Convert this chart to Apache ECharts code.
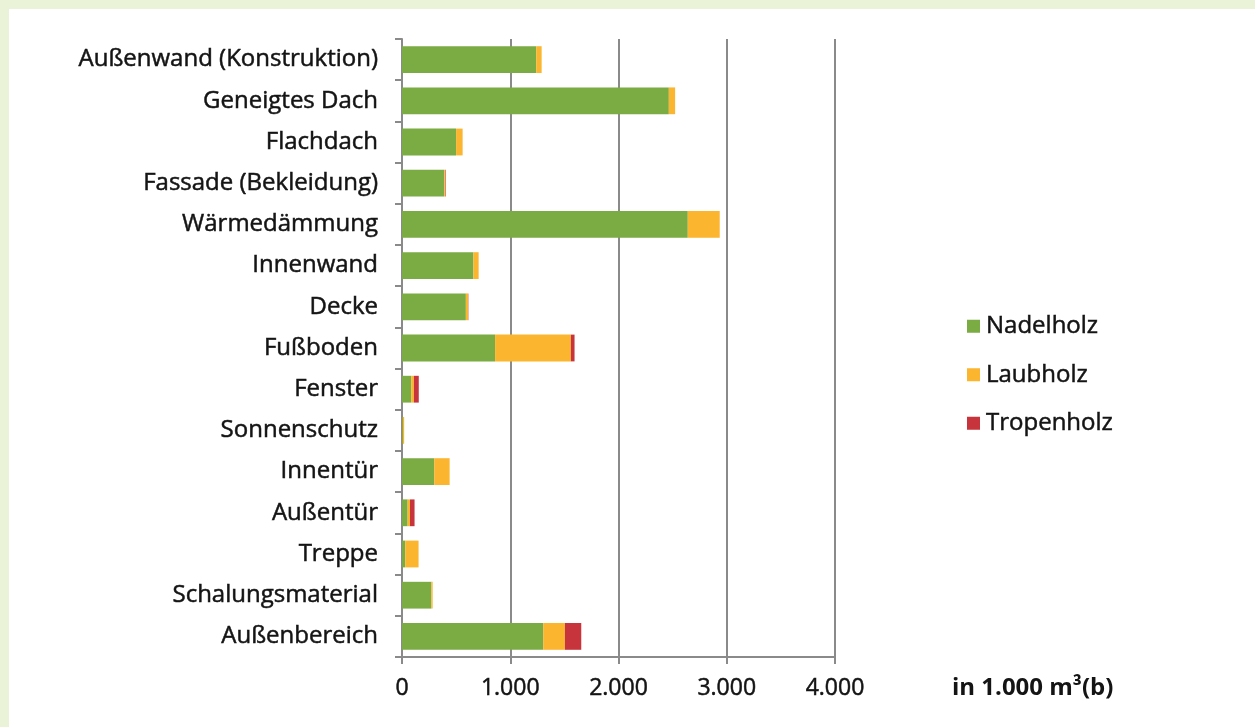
<!DOCTYPE html>
<html>
<head>
<meta charset="utf-8">
<script src="https://cdn.jsdelivr.net/npm/echarts@6/dist/echarts.min.js"></script>
<style>
html,body{margin:0;padding:0;background:#ffffff;}
#wrap{position:absolute;left:0;top:0;width:1255px;height:727px;background:#eaf2d8;}
#chart{position:absolute;left:9px;top:9px;width:1246px;height:718px;background:#ffffff;}
</style>
</head>
<body>
<div id="wrap"><div id="chart"></div></div>
<script>
const categories = ["Außenwand (Konstruktion)","Geneigtes Dach","Flachdach","Fassade (Bekleidung)","Wärmedämmung","Innenwand","Decke","Fußboden","Fenster","Sonnenschutz","Innentür","Außentür","Treppe","Schalungsmaterial","Außenbereich"];
const nadelholz = [1240,2465,500,390,2640,660,590,860,85,8,298,52,30,271,1305];
const laubholz  = [50,58,60,10,295,48,20,700,25,12,142,22,123,12,200];
const tropenholz= [0,0,0,5,0,0,3,34,45,0,0,42,0,0,151];
const xTicks = [0,1000,2000,3000,4000];
const seriesNames = ["Nadelholz","Laubholz","Tropenholz"];
const axisName = "in 1.000 m³(b)";

const colors = ["#7bab43","#fbb52f","#c7343b"];
const FONT = "'Open Sans', sans-serif";
const TXT = '#141414';
const chart = echarts.init(document.getElementById('chart'), null, {renderer:'canvas'});
const fmt = v => v === 0 ? '0' : (v/1000).toFixed(0) + '.000';
const mk = (name, data, i) => ({
  name, type:'bar', stack:'total', data, barWidth:'65%',
  itemStyle:{color:colors[i]}, emphasis:{disabled:true}
});
const thick = {textBorderColor:TXT, textBorderWidth:0.5};
chart.setOption({
  animation:false,
  textStyle:{fontFamily:FONT},
  grid:{left:393, top:30, width:433, height:618, containLabel:false},
  xAxis:{type:'value', min:0, max:4000, interval:1000,
    axisLine:{show:true, lineStyle:{color:'#8a8a8a', width:2}},
    axisTick:{show:true, length:7, lineStyle:{color:'#8a8a8a', width:2}},
    splitLine:{show:true, lineStyle:{color:'#8a8a8a', width:2}},
    axisLabel:Object.assign({color:TXT, fontSize:23, fontFamily:FONT, margin:20, formatter:fmt}, thick)
  },
  yAxis:{type:'category', data:categories, inverse:true,
    axisLine:{show:true, lineStyle:{color:'#8a8a8a', width:2}},
    axisTick:{show:true, length:7, lineStyle:{color:'#8a8a8a', width:2}},
    axisLabel:Object.assign({color:TXT, fontSize:24, fontFamily:FONT, margin:24}, thick)
  },
  legend:{orient:'vertical', left:953, top:300, itemWidth:13, itemHeight:13, itemGap:24,
    icon:'rect', data:seriesNames,
    textStyle:Object.assign({fontSize:24, color:TXT, fontFamily:FONT, padding:[0,0,0,1]}, thick)},
  graphic:[{type:'text', left:943, top:667, style:{text:axisName, font:"bold 24px 'Open Sans', sans-serif", fill:TXT}}],
  series:[mk(seriesNames[0], nadelholz,0), mk(seriesNames[1], laubholz,1), mk(seriesNames[2], tropenholz,2)]
});
</script>
</body>
</html>
